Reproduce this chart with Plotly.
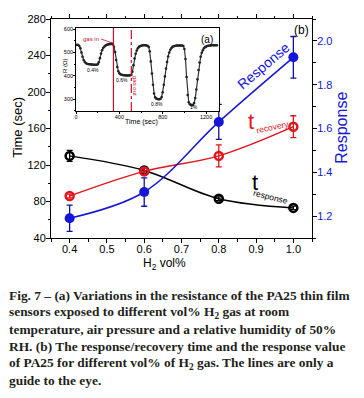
import plotly.graph_objects as go

# ---- main panel (b) data ----
h2_vol = [0.4, 0.6, 0.8, 1.0]
t_response = [130, 114, 83, 73]
t_response_err = [6, 3, 2, 2]
t_recovery = [86, 113, 130, 162]
t_recovery_err = [2, 4, 12, 12]
response = [1.19, 1.31, 1.63, 1.925]
response_err = [0.06, 0.065, 0.08, 0.095]

# ---- inset (a) data ----
time_sec = [0, 10, 20, 30, 40, 50, 60, 70, 80, 90, 100, 110, 120, 130, 140, 150, 160, 170, 180, 190,
            200, 210, 220, 230, 240, 250, 260, 270, 280, 290, 300, 310, 320, 330, 340, 350, 360, 370, 380, 390,
            400, 410, 420, 430, 440, 450, 460, 470, 480, 490, 500, 510, 520, 530, 540, 550, 560, 570, 580, 590,
            600, 610, 620, 630, 640, 650, 660, 670, 680, 690, 700, 710, 720, 730, 740, 750, 760, 770, 780, 790,
            800, 810, 820, 830, 840, 850, 860, 870, 880, 890, 900, 910, 920, 930, 940, 950, 960, 970, 980, 990,
            1000, 1010, 1020, 1030, 1040, 1050, 1060, 1070, 1080, 1090, 1100, 1110, 1120, 1130, 1140, 1150,
            1160, 1170, 1180, 1190, 1200, 1210, 1220, 1230, 1240, 1250, 1260, 1270, 1280, 1290, 1300]
resistance = [532, 533, 532, 528, 518, 500, 482, 468, 460, 455, 452, 451, 450, 450, 449, 449, 448, 448, 448, 448,
              450, 458, 476, 496, 510, 519, 525, 529, 532, 534, 535, 536, 537, 537, 535, 525, 502, 468, 438, 420,
              411, 407, 405, 404, 403, 403, 402, 402, 402, 402, 403, 405, 418, 446, 474, 495, 509, 518, 524, 527,
              529, 530, 531, 531, 531, 530, 529, 524, 505, 462, 410, 362, 325, 308, 303, 301, 300, 300, 302, 310,
              330, 362, 398, 432, 460, 483, 500, 512, 519, 524, 527, 528, 529, 530, 530, 530, 530, 530, 530, 528,
              515, 472, 395, 318, 287, 279, 276, 275, 276, 284, 305, 342, 385, 425, 457, 482,
              499, 510, 518, 523, 526, 528, 529, 530, 530, 531, 531, 531, 531, 531, 531]
dip_labels = ["0.4%", "0.6%", "0.8%", "1%"]
dip_label_t = [160, 425, 750, 1085]
dip_label_r = [424, 383, 278, 268]
gas_in_t = 345
gas_out_t = 510

BLUE = "#1616d8"
RED = "#e3151b"
BLACK = "#000000"
FONT = "Liberation Sans, Arial, sans-serif"

fig = go.Figure()

# t_response (black)
fig.add_trace(go.Scatter(
    x=h2_vol, y=t_response, mode="lines+markers",
    line=dict(color=BLACK, width=1.5, shape="spline"),
    marker=dict(symbol="circle-open", size=8, color=BLACK, line=dict(width=2.5)),
    error_y=dict(type="data", array=t_response_err, color=BLACK, thickness=1.3, width=3),
    xaxis="x", yaxis="y", showlegend=False))

# t_recovery (red)
fig.add_trace(go.Scatter(
    x=h2_vol, y=t_recovery, mode="lines+markers",
    line=dict(color=RED, width=1.5, shape="spline"),
    marker=dict(symbol="circle-open", size=8, color=RED, line=dict(width=2.5)),
    error_y=dict(type="data", array=t_recovery_err, color=RED, thickness=1.3, width=3),
    xaxis="x", yaxis="y", showlegend=False))

# Response (blue, right axis)
fig.add_trace(go.Scatter(
    x=h2_vol, y=response, mode="lines+markers",
    line=dict(color=BLUE, width=1.5, shape="spline"),
    marker=dict(symbol="circle", size=10, color=BLUE),
    error_y=dict(type="data", array=response_err, color="#1010a0", thickness=1.3, width=3),
    xaxis="x", yaxis="y2", showlegend=False))

# inset curve
fig.add_trace(go.Scatter(
    x=time_sec, y=resistance, mode="lines+markers",
    line=dict(color="#333333", width=1.2),
    marker=dict(symbol="circle", size=2.6, color="#222222"),
    xaxis="x3", yaxis="y3", showlegend=False))

# gas in / gas out lines
fig.add_trace(go.Scatter(x=[gas_in_t, gas_in_t], y=[250, 605], mode="lines",
                         line=dict(color="#c8102e", width=1.2),
                         xaxis="x3", yaxis="y3", showlegend=False))
fig.add_trace(go.Scatter(x=[gas_out_t, gas_out_t], y=[250, 605], mode="lines",
                         line=dict(color="#c8102e", width=1.2, dash="dashdot"),
                         xaxis="x3", yaxis="y3", showlegend=False))

tickfont = dict(family=FONT, size=11, color=BLACK)
inset_font = dict(family=FONT, size=5.5, color=BLACK)

annotations = []
# main labels
annotations.append(dict(x=0.919, y=1.885, xref="x", yref="y2", text="Response", showarrow=False,
                        textangle=-40, font=dict(family=FONT, size=14, color=BLUE)))
annotations.append(dict(x=0.886, y=168, xref="x", yref="y", text="t", showarrow=False,
                        font=dict(family=FONT, size=22, color=RED)))
annotations.append(dict(x=0.945, y=162, xref="x", yref="y", text="recovery", showarrow=False,
                        textangle=-12, font=dict(family=FONT, size=8.5, color=RED)))
annotations.append(dict(x=0.897, y=101, xref="x", yref="y", text="t", showarrow=False,
                        font=dict(family=FONT, size=22, color=BLACK)))
annotations.append(dict(x=0.94, y=85, xref="x", yref="y", text="response", showarrow=False,
                        textangle=14, font=dict(family=FONT, size=8.5, color=BLACK)))
annotations.append(dict(x=1.023, y=268, xref="x", yref="y", text="(b)", showarrow=False,
                        font=dict(family=FONT, size=12, color=BLACK)))
# axis titles
annotations.append(dict(x=-0.127, y=0.507, xref="paper", yref="paper", text="Time (sec)", showarrow=False,
                        xanchor="center", yanchor="middle",
                        textangle=-90, font=dict(family=FONT, size=13, color=BLACK)))
annotations.append(dict(x=1.11, y=0.502, xref="paper", yref="paper", text="Response", showarrow=False,
                        xanchor="center", yanchor="middle",
                        textangle=-90, font=dict(family=FONT, size=16, color=BLUE)))
annotations.append(dict(x=0.433, y=-0.119, xref="paper", yref="paper", text="H<sub>2</sub> vol%",
                        xanchor="center", yanchor="middle",
                        showarrow=False, font=dict(family=FONT, size=12, color=BLACK)))
# inset axis titles
annotations.append(dict(x=(141 - 51) / 261, y=(238 - 122) / 219, xref="paper", yref="paper", text="Time (sec)",
                        xanchor="center", yanchor="middle", showarrow=False,
                        font=dict(family=FONT, size=7, color=BLACK)))
annotations.append(dict(x=(65 - 51) / 261, y=(238 - 66) / 219, xref="paper", yref="paper", text="R (\u03a9)",
                        xanchor="center", yanchor="middle", showarrow=False, textangle=-90,
                        font=dict(family=FONT, size=6, color=BLACK)))
# inset texts
for lab, tt, rr in zip(dip_labels, dip_label_t, dip_label_r):
    annotations.append(dict(x=tt, y=rr, xref="x3", yref="y3", text=lab, showarrow=False,
                            font=dict(family=FONT, size=5, color=BLACK)))
annotations.append(dict(x=1210, y=556, xref="x3", yref="y3", text="(a)", showarrow=False,
                        font=dict(family=FONT, size=10, color=BLACK)))
annotations.append(dict(x=340, y=540, xref="x3", yref="y3", ax=230, ay=558, axref="x3", ayref="y3",
                        text="gas in", showarrow=True, arrowhead=0, arrowwidth=0.8, arrowcolor="#c8102e",
                        xanchor="right", font=dict(family=FONT, size=6, color="#c8102e")))
annotations.append(dict(x=512, y=405, xref="x3", yref="y3", ax=585, ay=355, axref="x3", ayref="y3",
                        text="gas out", showarrow=True, arrowhead=0, arrowwidth=0.8, arrowcolor="#c8102e",
                        textangle=90, yanchor="top", font=dict(family=FONT, size=6, color="#c8102e")))

# caption
caption_lines = [
    "Fig. 7 \u2013 (a) Variations in the resistance of the PA25 thin film",
    "sensors exposed to different vol% H<sub>2</sub> gas at room",
    "temperature, air pressure and a relative humidity of 50%",
    "RH. (b) The response/recovery time and the response value",
    "of PA25 for different vol% of H<sub>2</sub> gas. The lines are only a",
    "guide to the eye.",
]
caption_px_y = [295, 312, 329, 346, 363, 380]
for line, py in zip(caption_lines, caption_px_y):
    annotations.append(dict(x=(7 - 51) / 261, y=(238 - py) / 219, xref="paper", yref="paper",
                            xanchor="left", yanchor="middle", text="<b>" + line + "</b>", showarrow=False,
                            font=dict(family="Liberation Serif, serif", size=13.4, color="#231f20")))

fig.update_layout(
    width=364, height=398,
    margin=dict(l=51, r=52, t=19, b=160),
    paper_bgcolor="white", plot_bgcolor="white",
    showlegend=False,
    xaxis=dict(range=[0.35, 1.05], tick0=0.4, dtick=0.1, tickformat=".1f",
               showline=True, linecolor=BLACK, linewidth=1, mirror="ticks",
               ticks="outside", ticklen=4, tickcolor=BLACK, showgrid=False, zeroline=False,
               minor=dict(ticks="outside", ticklen=2.5, dtick=0.05, tickcolor=BLACK),
               tickfont=tickfont, ticklabelstandoff=-3),
    yaxis=dict(range=[40, 280], tick0=40, dtick=40,
               showline=True, linecolor=BLACK, linewidth=1,
               ticks="outside", ticklen=4, tickcolor=BLACK, showgrid=False, zeroline=False,
               minor=dict(ticks="outside", ticklen=2.5, dtick=20, tickcolor=BLACK),
               tickfont=tickfont, ticklabelstandoff=-2),
    yaxis2=dict(range=[1.1, 2.1], tick0=1.2, dtick=0.2, tickformat=".1f", overlaying="y", side="right",
                showline=True, linecolor=BLACK, linewidth=1,
                ticks="outside", ticklen=4, tickcolor=BLACK, showgrid=False, zeroline=False,
                minor=dict(ticks="outside", ticklen=2.5, dtick=0.1, tickcolor=BLACK),
                tickfont=dict(family=FONT, size=11, color=BLUE), ticklabelstandoff=-2),
    xaxis3=dict(domain=[0.096, 0.644], anchor="y3", range=[0, 1320], tick0=0, dtick=400,
                showline=True, linecolor=BLACK, linewidth=0.8, mirror=True,
                ticks="outside", ticklen=2, tickcolor=BLACK, showgrid=False, zeroline=False,
                minor=dict(ticks="outside", ticklen=1.5, dtick=200, tickcolor=BLACK),
                tickfont=inset_font, ticklabelstandoff=-1),
    yaxis3=dict(domain=[0.58, 0.959], anchor="x3", range=[250, 605], tick0=300, dtick=100,
                showline=True, linecolor=BLACK, linewidth=0.8, mirror=True,
                ticks="outside", ticklen=2, tickcolor=BLACK, showgrid=False, zeroline=False,
                minor=dict(ticks="outside", ticklen=1.5, dtick=50, tickcolor=BLACK),
                tickfont=inset_font, ticklabelstandoff=-1),
    annotations=annotations,
)

fig.write_html("out.html", config={"displayModeBar": False},
               post_script="document.body.style.margin='0';document.body.style.overflow='hidden';")
